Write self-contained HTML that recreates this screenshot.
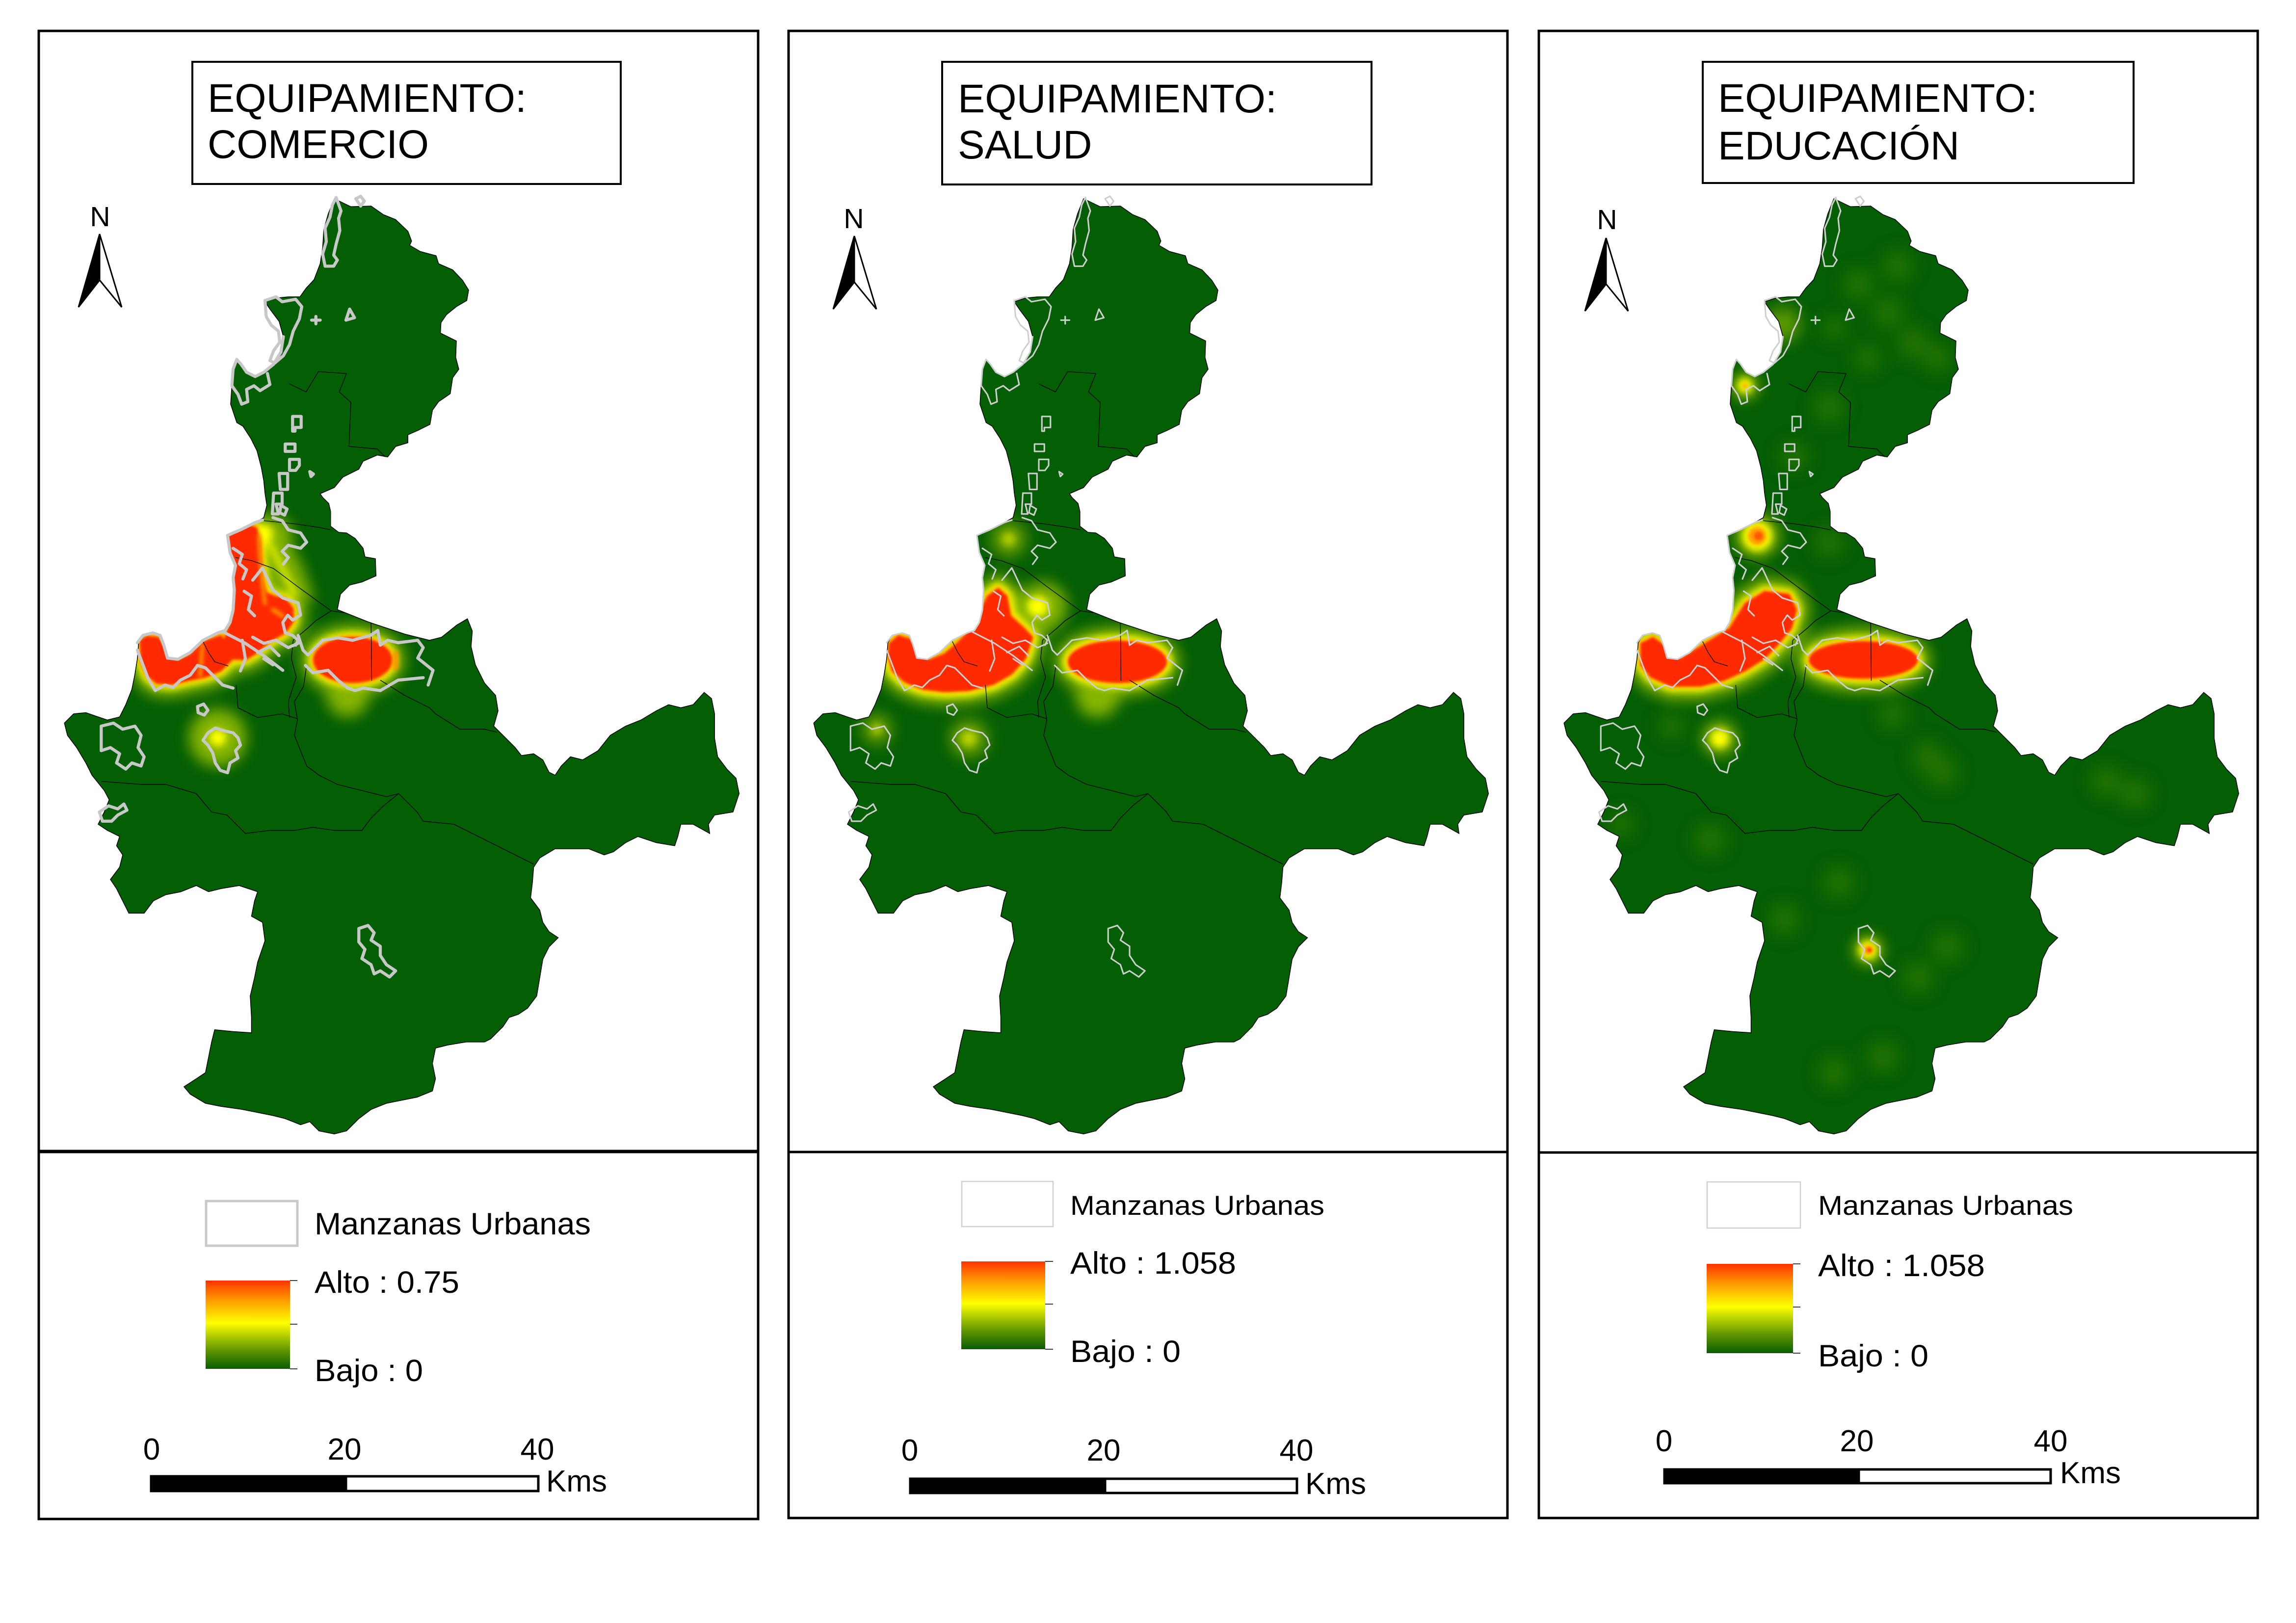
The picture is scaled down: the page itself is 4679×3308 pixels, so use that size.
<!DOCTYPE html>
<html>
<head>
<meta charset="utf-8">
<style>
html,body{margin:0;padding:0;background:#fff;}
body{width:4679px;height:3308px;overflow:hidden;}
svg{display:block;}
text{font-family:"Liberation Sans",Arial,sans-serif;fill:#000;}
</style>
</head>
<body>
<svg width="4679" height="3308" viewBox="0 0 4679 3308" xmlns="http://www.w3.org/2000/svg" xmlns:xlink="http://www.w3.org/1999/xlink">
<defs>
  <linearGradient id="ramp" x1="0" y1="0" x2="0" y2="1">
    <stop offset="0" stop-color="#ff3300"/>
    <stop offset="0.22" stop-color="#ff9a00"/>
    <stop offset="0.48" stop-color="#ffff00"/>
    <stop offset="0.62" stop-color="#b4d000"/>
    <stop offset="0.80" stop-color="#5a9400"/>
    <stop offset="1" stop-color="#0a5c00"/>
  </linearGradient>
  <filter id="b12" x="-60%" y="-60%" width="220%" height="220%"><feGaussianBlur stdDeviation="12"/></filter>
  <filter id="b14" x="-80%" y="-80%" width="260%" height="260%"><feGaussianBlur stdDeviation="14"/></filter>
  <filter id="b6" x="-60%" y="-60%" width="220%" height="220%"><feGaussianBlur stdDeviation="6"/></filter>
  <filter id="b3" x="-40%" y="-40%" width="180%" height="180%"><feGaussianBlur stdDeviation="3"/></filter>
  <filter id="b2" x="-40%" y="-40%" width="180%" height="180%"><feGaussianBlur stdDeviation="2"/></filter>

  <path id="land" d="M545,20 L572,33 L605,32 L625,46 L645,54 L665,73 L671,89 L668,96 L685,106 L711,113 L715,126 L738,136 L754,153 L764,169 L761,186 L744,196 L728,209 L719,222 L718,239 L744,252 L743,279 L748,298 L738,312 L734,338 L715,351 L705,365 L701,388 L681,398 L665,405 L665,418 L645,424 L632,441 L615,438 L592,448 L585,461 L559,474 L545,491 L522,501 L526,507 L536,517 L539,530 L539,554 L552,564 L565,565 L579,574 L592,590 L595,604 L612,607 L613,635 L590,645 L570,650 L555,665 L550,690 L575,700 L600,710 L630,720 L660,730 L700,740 L720,735 L745,715 L762,705 L770,725 L768,750 L775,780 L790,810 L808,830 L812,855 L805,880 L820,895 L840,915 L850,928 L870,925 L885,935 L895,955 L905,960 L915,945 L930,930 L950,935 L975,920 L995,895 L1020,880 L1045,870 L1070,855 L1090,845 L1110,850 L1130,845 L1148,825 L1160,835 L1165,860 L1165,900 L1170,930 L1185,950 L1200,965 L1205,990 L1195,1020 L1165,1025 L1155,1040 L1157,1055 L1130,1040 L1110,1040 L1105,1060 L1100,1075 L1070,1070 L1040,1060 L1020,1070 L1000,1085 L985,1090 L960,1080 L925,1080 L905,1080 L880,1095 L870,1110 L868,1135 L865,1160 L880,1180 L885,1200 L895,1215 L910,1225 L895,1240 L885,1260 L880,1290 L875,1320 L860,1340 L845,1350 L830,1355 L820,1370 L800,1390 L790,1395 L760,1395 L730,1400 L710,1405 L705,1430 L710,1455 L705,1475 L680,1485 L655,1490 L630,1495 L605,1505 L585,1520 L565,1540 L545,1545 L520,1540 L505,1525 L490,1530 L465,1520 L445,1515 L420,1510 L395,1505 L360,1500 L335,1495 L310,1480 L300,1468 L320,1455 L335,1445 L340,1420 L345,1395 L350,1375 L380,1378 L410,1380 L410,1355 L408,1320 L415,1290 L420,1265 L432,1230 L428,1200 L410,1190 L415,1165 L420,1150 L390,1140 L360,1145 L340,1150 L320,1140 L295,1150 L270,1155 L250,1165 L235,1185 L210,1185 L200,1165 L190,1145 L180,1130 L195,1110 L200,1090 L190,1075 L195,1060 L175,1050 L160,1040 L170,1020 L178,1000 L170,985 L150,960 L140,940 L125,915 L110,895 L105,875 L120,860 L140,858 L160,865 L175,870 L195,865 L205,845 L215,820 L220,795 L224,770 L226,744 L233,732 L249,728 L261,732 L267,748 L273,769 L290,771 L310,760 L331,740 L355,728 L367,724 L375,711 L380,691 L382,658 L380,638 L384,618 L375,597 L371,569 L380,565 L392,560 L416,548 L430,540 L435,520 L432,500 L430,480 L426,458 L419,431 L409,411 L396,391 L386,385 L376,355 L378,325 L380,298 L386,282 L393,290 L402,303 L416,310 L430,303 L446,290 L458,270 L462,245 L455,220 L440,200 L432,188 L450,182 L470,180 L489,180 L499,166 L512,152 L522,126 L526,100 L528,70 L535,45 Z"/>
  <clipPath id="clip"><use xlink:href="#land"/></clipPath>

  <g id="bounds" fill="none" stroke-linejoin="round">
    <path d="M472,322 L499,335 L519,302 L565,305 L553,335 L572,352 L569,424 L615,428 L628,441"/>
    <path d="M430,545 L480,550 L520,556 L540,560"/>
    <path d="M384,605 L410,610 L446,623 L486,653 L519,677 L540,692 L560,695"/>
    <path d="M540,692 L515,708 L502,720 L478,740 L475,770 L483,800 L470,840 L472,866"/>
    <path d="M605,712 L606,806"/>
    <path d="M620,805 L660,830 L700,850 L710,860 L750,885 L790,885 L810,890"/>
    <path d="M165,970 L230,975 L270,975 L320,990 L345,1020 L370,1025 L400,1055 L440,1050 L480,1050 L510,1045 L545,1050 L590,1050 L605,1030 L625,1010 L650,990 L680,1020 L690,1035 L740,1040 L770,1055 L800,1070 L830,1085 L870,1105"/>
    <path d="M500,780 L495,815 L480,840 L485,870 L480,895 L500,945 L520,960 L550,975 L590,985 L630,995 L650,990"/>
    <path d="M385,813 L388,850 L420,866 L460,860 L485,868"/>
    <path d="M331,742 L340,760 L350,775 L372,782"/>
  </g>

  <g id="urban" fill="none" stroke-linejoin="round" stroke-linecap="round">
    <path d="M548,18 l-6,12 l-4,20 l-8,18 l2,22 l-6,20 l4,20 l14,0 l6,-10 l-6,-8 l4,-18 l6,-22 l-2,-20 l4,-12 z"/>
    <path d="M580,20 l8,-4 l6,8 l-6,8 z"/>
    <path d="M432,186 l18,-6 l10,8 l22,-4 l10,12 l-4,20 l-10,20 l-6,22 l-10,18 l-14,12 l-8,-4 l6,-16 l10,-14 l-2,-18 l-12,-10 l-8,-14 z"/>
    <path d="M462,245 l-4,25 l-12,20 l-16,13 l-14,7 l-14,-7 l-9,-13 l-7,-8 l-6,16 l-2,27 l10,14 l6,16 l10,-4 l-2,-20 l12,-6 l10,8 l16,-10 l-4,-18"/>
    <path d="M570,200 l8,14 l-14,4 z"/>
    <path d="M508,218 h14 M515,212 v12"/>
    <path d="M477,375 h14 v18 h-10 v6 h-4 z"/>
    <path d="M465,420 h16 v12 h-16 z"/>
    <path d="M472,445 h16 v10 l-6,8 h-10 z"/>
    <path d="M505,465 l6,4 l-4,4 z"/>
    <path d="M455,468 h14 v26 h-12 z"/>
    <path d="M446,500 h14 v18 h-10 l4,16 h-10 z"/>
    <path d="M458,520 l10,6 l-4,10 l-8,-4 z"/>
    <path d="M224,744 L233,732 L249,728 L261,732 L267,748 L273,769 L290,771 L310,760 L331,740 L355,728 L367,724 L375,711 L380,691 L382,658 L380,638 L384,618 L375,597 L371,569 L380,565 L392,560 L416,548 L428,544"/>
    <path d="M224,756 L241,801 L253,822 L269,813 L282,817 L294,805 L310,797 L322,781 L335,785 L347,797 L363,813 L380,818"/>
    <path d="M363,726 L400,745 L430,765 L461,789"/>
    <path d="M412,642 L428,622 L445,658 L461,671 L486,679 L490,699 L477,707 L469,699 L461,711 L465,728 L477,732 L486,740 L482,748"/>
    <path d="M412,735 L430,745 L450,740 L470,752 L486,745 M420,760 L440,750 L455,765 M395,740 L400,770 L392,790 M430,770 L445,780"/>
    <path d="M380,590 L395,600 L390,615 L402,625 L396,640 M398,660 L410,668 L405,690 L415,700"/>
    <path d="M445,540 L460,545 L470,560 L490,565 L500,580 L490,590 L470,585 L460,595 L470,605 L462,616"/>
    <path d="M486,732 L494,756 L502,764 L526,740 L551,736 L575,740 L604,732 L616,724 L620,748 L632,740 L649,744 L681,740 L690,752 L681,769 L706,789 L698,813"/>
    <path d="M690,801 L649,805 L620,822 L592,818 L579,822 L567,818 L551,805 L535,789 L510,793 L498,781"/>
    <path d="M339,891 L351,883 L363,887 L380,891 L388,899 L392,911 L384,920 L388,932 L375,940 L371,956 L359,952 L351,940 L347,924 L339,911 L331,903 Z"/>
    <path d="M322,848 l10,-4 l7,10 l-6,8 l-10,-4 z"/>
    <path d="M165,880 l20,-5 l15,10 l20,-5 l10,15 l-5,20 l10,15 l-5,15 l-15,-5 l-10,10 l-15,-10 l5,-15 l-15,-10 l-15,5 z"/>
    <path d="M162,1020 l15,-10 l15,5 l10,-8 l5,10 l-15,8 l-10,10 l-15,0 z"/>
    <path d="M585,1210 l15,-5 l10,12 l-5,12 l15,10 l0,15 l10,15 l15,10 l-10,10 l-15,-10 l-10,5 l-5,-15 l-15,-10 l5,-15 l-10,-12 z"/>
  </g>

  <!-- heat shapes -->
  <path id="W1" d="M228,740 L240,733 L258,735 L267,750 L273,767 L290,772 L310,763 L331,742 L360,732 L372,745 L380,770 L360,790 L335,800 L310,805 L280,812 L255,810 L240,798 L230,775 Z"/>
  <path id="C1" d="M371,565 L385,558 L405,552 L418,556 L424,580 L426,610 L428,640 L434,662 L448,668 L465,672 L478,688 L478,710 L465,728 L440,742 L420,760 L400,772 L370,770 L365,740 L375,711 L380,691 L382,658 L380,638 L384,618 L375,597 Z"/>
  <ellipse id="E1" cx="575" cy="772" rx="64" ry="37"/>
  <path id="W2" d="M228,745 L243,732 L263,738 L273,760 L293,772 L318,762 L338,745 L358,725 L373,700 L388,668 L406,655 L420,668 L426,700 L448,720 L462,735 L450,770 L428,795 L398,812 L358,822 L318,824 L283,820 L253,808 L233,790 L226,765 Z"/>
  <ellipse id="E2" cx="600" cy="775" rx="80" ry="34"/>
  <path id="W3" d="M230,745 L250,735 L271,750 L295,770 L335,745 L375,720 L400,680 L432,660 L472,665 L484,690 L476,720 L456,745 L432,770 L400,790 L367,805 L327,815 L279,815 L246,800 L230,780 Z"/>
  <ellipse id="E3" cx="593" cy="772" rx="88" ry="30"/>

  <path id="arrowL" d="M0,0 L-43,149 L0,94 Z"/>
  <path id="arrowR" d="M0,0 L45,149 L0,94 Z"/>
</defs>

<!-- ============ PANEL FRAMES ============ -->
<g fill="none" stroke="#000">
  <rect x="79" y="63" width="1466" height="3033" stroke-width="5"/>
  <line x1="79" y1="2347" x2="1545" y2="2347" stroke-width="7"/>
  <rect x="1607" y="63" width="1465" height="3031" stroke-width="5"/>
  <line x1="1607" y1="2348" x2="3072" y2="2348" stroke-width="5"/>
  <rect x="3136" y="63" width="1465" height="3031" stroke-width="5"/>
  <line x1="3136" y1="2349" x2="4601" y2="2349" stroke-width="5"/>
</g>

<!-- ============ TITLES ============ -->
<g fill="#fff" stroke="#000" stroke-width="4">
  <rect x="392" y="126" width="873" height="249"/>
  <rect x="1920" y="126" width="875" height="250"/>
  <rect x="3470" y="126" width="878" height="247"/>
</g>
<g font-size="82">
  <text x="423" y="228" textLength="650" lengthAdjust="spacingAndGlyphs">EQUIPAMIENTO:</text>
  <text x="423" y="322">COMERCIO</text>
  <text x="1952" y="229" textLength="650" lengthAdjust="spacingAndGlyphs">EQUIPAMIENTO:</text>
  <text x="1952" y="323">SALUD</text>
  <text x="3501" y="228" textLength="651" lengthAdjust="spacingAndGlyphs">EQUIPAMIENTO:</text>
  <text x="3501" y="325">EDUCACIÓN</text>
</g>

<!-- ============ NORTH ARROWS ============ -->
<g font-size="57" text-anchor="middle">
  <text x="204" y="461">N</text>
  <text x="1740" y="465">N</text>
  <text x="3275" y="467">N</text>
</g>
<g stroke="#000" stroke-width="3" stroke-linejoin="miter">
  <g transform="translate(203,477)"><use xlink:href="#arrowL" fill="#000"/><use xlink:href="#arrowR" fill="#fff"/></g>
  <g transform="translate(1741,481)"><use xlink:href="#arrowL" fill="#000"/><use xlink:href="#arrowR" fill="#fff"/></g>
  <g transform="translate(3273,485)"><use xlink:href="#arrowL" fill="#000"/><use xlink:href="#arrowR" fill="#fff"/></g>
</g>

<!-- ============ MAP PANEL 1 ============ -->
<g transform="translate(0,380) scale(1.25)">
  <use xlink:href="#land" fill="#045e04"/>
  <g clip-path="url(#clip)">
    <g filter="url(#b12)" fill="#9cc400" stroke="#9cc400" stroke-width="42" stroke-linejoin="round" opacity="0.85">
      <use xlink:href="#W1"/><use xlink:href="#C1"/><use xlink:href="#E1"/>
      <circle cx="355" cy="899" r="26"/><circle cx="440" cy="572" r="16"/>
      <circle cx="567" cy="830" r="14"/>
      <path d="M430,560 L470,620 L492,680" fill="none"/>
    </g>
    <g filter="url(#b6)" fill="#ffff00" stroke="#ffff00" stroke-width="16" stroke-linejoin="round">
      <use xlink:href="#W1"/><use xlink:href="#C1"/><use xlink:href="#E1"/>
      <circle cx="355" cy="899" r="14" stroke="none"/><circle cx="430" cy="566" r="7"/>
      <path d="M434,572 L456,615 L482,668" fill="none" stroke-width="7"/>
    </g>
    <g filter="url(#b3)" fill="#ff9c00" stroke="#ff9c00" stroke-width="7" stroke-linejoin="round">
      <use xlink:href="#W1"/><use xlink:href="#C1"/><use xlink:href="#E1"/>
    </g>
    <g filter="url(#b2)" fill="#ff2b00">
      <use xlink:href="#W1"/><use xlink:href="#C1"/><use xlink:href="#E1"/>
    </g>
    <g filter="url(#b3)" fill="none" stroke="#ff9000" stroke-linecap="round">
      <path d="M422,570 Q424,620 432,680" stroke-width="6"/>
      <path d="M330,748 L326,798" stroke-width="6"/>
      <path d="M645,760 L645,785" stroke-width="8"/>
      <path d="M445,690 L460,700" stroke-width="7"/>
    </g>
  </g>
  <use xlink:href="#land" fill="none" stroke="#000" stroke-width="1.2"/>
  <use xlink:href="#bounds" stroke="#000" stroke-width="1.1"/>
  <use xlink:href="#urban" stroke="#c8c8c8" stroke-width="5"/>
</g>

<!-- ============ MAP PANEL 2 ============ -->
<g transform="translate(1527,380) scale(1.25)">
  <use xlink:href="#land" fill="#045e04"/>
  <g clip-path="url(#clip)">
    <g filter="url(#b12)" fill="#9cc400" stroke="#9cc400" stroke-width="44" stroke-linejoin="round" opacity="0.85">
      <use xlink:href="#W2"/><use xlink:href="#E2"/>
      <circle cx="478" cy="685" r="18"/>
      <circle cx="568" cy="830" r="14"/>
    </g>
    <g filter="url(#b14)" fill="#a8c800" opacity="0.8">
      <circle cx="423" cy="575" r="26"/>
      <circle cx="208" cy="885" r="22"/>
      <circle cx="358" cy="900" r="28"/>
    </g>
    <g filter="url(#b6)" fill="#ffff00" stroke="#ffff00" stroke-width="18" stroke-linejoin="round">
      <use xlink:href="#W2"/><use xlink:href="#E2"/>
      <circle cx="470" cy="685" r="8"/>
    </g>
    <g filter="url(#b6)" fill="#e8f000" opacity="0.6">
      <circle cx="423" cy="575" r="10"/>
      <circle cx="208" cy="885" r="8"/>
      <circle cx="358" cy="900" r="12"/>
    </g>
    <g filter="url(#b3)" fill="#ff9c00" stroke="#ff9c00" stroke-width="6" stroke-linejoin="round">
      <use xlink:href="#W2"/><use xlink:href="#E2"/>
    </g>
    <g filter="url(#b2)" fill="#ff2b00">
      <use xlink:href="#W2"/><use xlink:href="#E2"/>
    </g>
  </g>
  <use xlink:href="#land" fill="none" stroke="#000" stroke-width="1.2"/>
  <use xlink:href="#bounds" stroke="#000" stroke-width="1.1"/>
  <use xlink:href="#urban" stroke="#cfcfcf" stroke-width="2.5"/>
</g>

<!-- ============ MAP PANEL 3 ============ -->
<g transform="translate(3056,380) scale(1.25)">
  <use xlink:href="#land" fill="#045e04"/>
  <g clip-path="url(#clip)">
    <g filter="url(#b14)" fill="#3a8200" opacity="0.55">
      <circle cx="585" cy="160" r="26"/><circle cx="649" cy="130" r="26"/><circle cx="633" cy="205" r="26"/>
      <circle cx="674" cy="255" r="26"/><circle cx="714" cy="280" r="24"/><circle cx="537" cy="360" r="26"/>
      <circle cx="480" cy="440" r="24"/><circle cx="537" cy="580" r="26"/><circle cx="343" cy="1065" r="26"/>
      <circle cx="553" cy="1135" r="26"/><circle cx="464" cy="1195" r="26"/><circle cx="730" cy="1240" r="26"/>
      <circle cx="682" cy="1290" r="26"/><circle cx="625" cy="1420" r="26"/><circle cx="545" cy="1445" r="26"/>
      <circle cx="698" cy="930" r="26"/><circle cx="722" cy="955" r="26"/><circle cx="641" cy="860" r="24"/>
      <circle cx="988" cy="970" r="26"/><circle cx="1036" cy="990" r="26"/><circle cx="198" cy="1040" r="22"/>
      <circle cx="600" cy="280" r="22"/><circle cx="545" cy="230" r="20"/><circle cx="280" cy="880" r="22"/>
    </g>
    <g filter="url(#b14)" fill="#8ab800" opacity="0.7">
      <circle cx="462" cy="225" r="28"/>
    </g>
    <g filter="url(#b12)" fill="#9cc400" stroke="#9cc400" stroke-width="44" stroke-linejoin="round" opacity="0.85">
      <use xlink:href="#W3"/><use xlink:href="#E3"/>
      <circle cx="420" cy="570" r="26" stroke-width="20"/>
      <circle cx="400" cy="325" r="12" stroke-width="20"/>
      <circle cx="359" cy="900" r="18" stroke-width="20"/>
      <circle cx="601" cy="1245" r="14" stroke-width="20"/>
    </g>
    <g filter="url(#b6)" fill="#ffff00" stroke="#ffff00" stroke-width="16" stroke-linejoin="round">
      <use xlink:href="#W3"/><use xlink:href="#E3"/>
      <circle cx="420" cy="570" r="20" stroke-width="8"/>
      <circle cx="400" cy="325" r="9" stroke-width="6"/>
      <circle cx="359" cy="900" r="12" stroke-width="6"/>
      <circle cx="601" cy="1245" r="12" stroke-width="6"/>
    </g>
    <g filter="url(#b3)" fill="#ff9c00" stroke="#ff9c00" stroke-width="6" stroke-linejoin="round">
      <use xlink:href="#W3"/><use xlink:href="#E3"/>
      <circle cx="420" cy="570" r="15" stroke="none"/>
      <circle cx="601" cy="1245" r="8" stroke="none"/>
      <circle cx="400" cy="325" r="4" stroke="none"/>
    </g>
    <g filter="url(#b2)" fill="#ff2b00">
      <use xlink:href="#W3"/><use xlink:href="#E3"/>
      <circle cx="422" cy="570" r="7" opacity="0.6"/>
      <circle cx="603" cy="1245" r="4" opacity="0.7"/>
    </g>
  </g>
  <use xlink:href="#land" fill="none" stroke="#000" stroke-width="1.2"/>
  <use xlink:href="#bounds" stroke="#000" stroke-width="1.1"/>
  <use xlink:href="#urban" stroke="#cfcfcf" stroke-width="2.5"/>
</g>

<!-- ============ LEGEND PANEL 1 ============ -->
<rect x="420" y="2448" width="186" height="91" fill="#fff" stroke="#c8c8c8" stroke-width="5"/>
<text x="641" y="2516" font-size="63" textLength="563" lengthAdjust="spacingAndGlyphs">Manzanas Urbanas</text>
<rect x="419" y="2610" width="172" height="180" fill="url(#ramp)"/>
<g stroke="#000" stroke-width="1.5">
  <line x1="591" y1="2610" x2="606" y2="2610"/>
  <line x1="591" y1="2699" x2="606" y2="2699"/>
  <line x1="591" y1="2790" x2="606" y2="2790"/>
</g>
<text x="641" y="2635" font-size="63" textLength="295" lengthAdjust="spacingAndGlyphs">Alto : 0.75</text>
<text x="641" y="2815" font-size="63" textLength="221" lengthAdjust="spacingAndGlyphs">Bajo : 0</text>
<g font-size="62" text-anchor="middle">
  <text x="309" y="2975">0</text>
  <text x="702" y="2975">20</text>
  <text x="1095" y="2975">40</text>
</g>
<rect x="308" y="3007" width="397" height="34" fill="#000"/>
<rect x="705" y="3009" width="392" height="30" fill="#fff" stroke="#000" stroke-width="5"/>
<rect x="308" y="3009" width="789" height="30" fill="none" stroke="#000" stroke-width="5"/>
<text x="1113" y="3040" font-size="62">Kms</text>

<!-- ============ LEGEND PANEL 2 ============ -->
<rect x="1960" y="2408" width="186" height="92" fill="#fff" stroke="#d0d0d0" stroke-width="2.5"/>
<text x="2181" y="2476" font-size="56" textLength="518" lengthAdjust="spacingAndGlyphs">Manzanas Urbanas</text>
<rect x="1959" y="2571" width="171" height="179" fill="url(#ramp)"/>
<g stroke="#000" stroke-width="1.5">
  <line x1="2130" y1="2571" x2="2146" y2="2571"/>
  <line x1="2130" y1="2658" x2="2146" y2="2658"/>
  <line x1="2130" y1="2750" x2="2146" y2="2750"/>
</g>
<text x="2181" y="2596" font-size="63" textLength="338" lengthAdjust="spacingAndGlyphs">Alto : 1.058</text>
<text x="2181" y="2776" font-size="63" textLength="225" lengthAdjust="spacingAndGlyphs">Bajo : 0</text>
<g font-size="62" text-anchor="middle">
  <text x="1854" y="2977">0</text>
  <text x="2249" y="2977">20</text>
  <text x="2642" y="2977">40</text>
</g>
<rect x="1855" y="3012" width="397" height="33" fill="#000"/>
<rect x="2252" y="3014" width="391" height="29" fill="#fff" stroke="#000" stroke-width="5"/>
<rect x="1855" y="3014" width="788" height="29" fill="none" stroke="#000" stroke-width="5"/>
<text x="2660" y="3045" font-size="62">Kms</text>

<!-- ============ LEGEND PANEL 3 ============ -->
<rect x="3479" y="2409" width="190" height="94" fill="#fff" stroke="#d0d0d0" stroke-width="2.5"/>
<text x="3705" y="2476" font-size="56" textLength="520" lengthAdjust="spacingAndGlyphs">Manzanas Urbanas</text>
<rect x="3478" y="2576" width="176" height="182" fill="url(#ramp)"/>
<g stroke="#000" stroke-width="1.5">
  <line x1="3654" y1="2576" x2="3669" y2="2576"/>
  <line x1="3654" y1="2664" x2="3669" y2="2664"/>
  <line x1="3654" y1="2758" x2="3669" y2="2758"/>
</g>
<text x="3705" y="2601" font-size="63" textLength="340" lengthAdjust="spacingAndGlyphs">Alto : 1.058</text>
<text x="3705" y="2785" font-size="63" textLength="225" lengthAdjust="spacingAndGlyphs">Bajo : 0</text>
<g font-size="62" text-anchor="middle">
  <text x="3391" y="2958">0</text>
  <text x="3784" y="2958">20</text>
  <text x="4179" y="2958">40</text>
</g>
<rect x="3392" y="2993" width="396" height="32" fill="#000"/>
<rect x="3788" y="2995" width="391" height="28" fill="#fff" stroke="#000" stroke-width="5"/>
<rect x="3392" y="2995" width="787" height="28" fill="none" stroke="#000" stroke-width="5"/>
<text x="4198" y="3023" font-size="62">Kms</text>
</svg>
</body>
</html>
